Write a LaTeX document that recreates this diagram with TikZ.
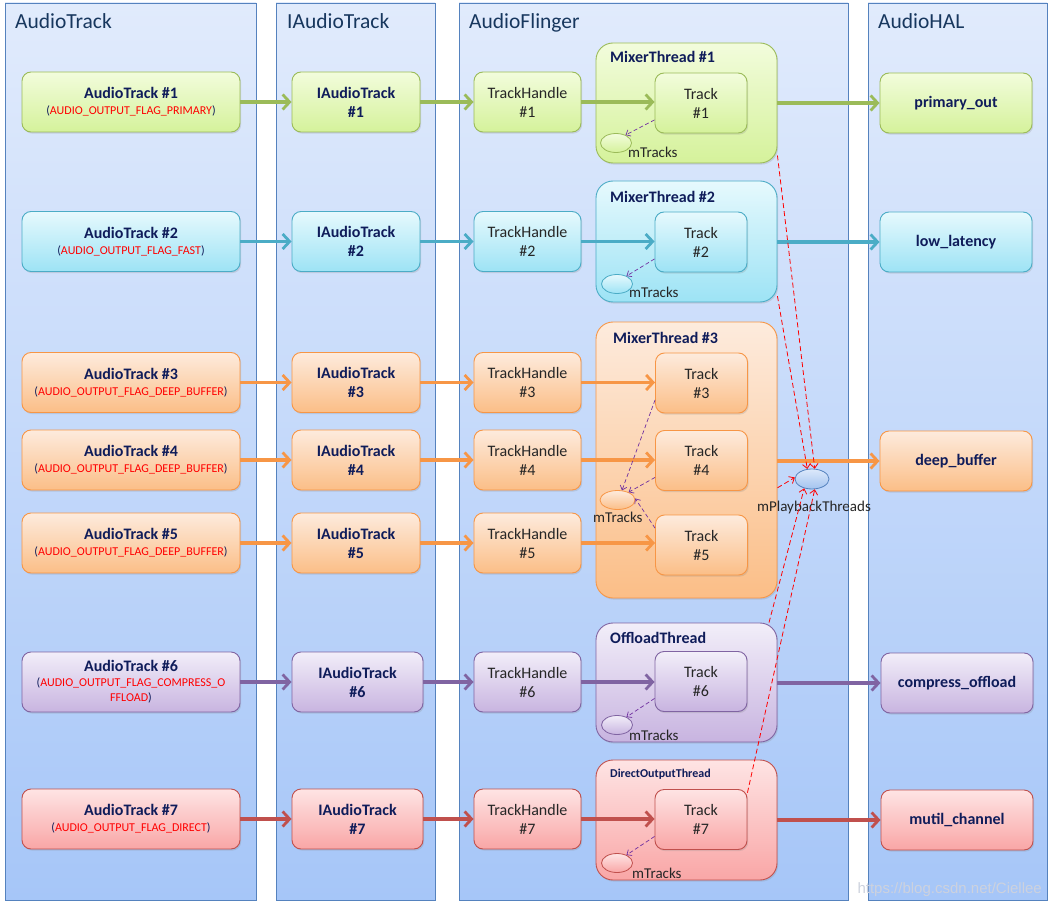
\documentclass[tikz,border=0pt]{standalone}
\usepackage{fontspec}
\setmainfont{Carlito}
\newfontfamily\wmfont{Liberation Sans}
\usetikzlibrary{arrows.meta,shapes.geometric,shadows,calc}
\definecolor{laneT}{HTML}{E1EBFC}
\definecolor{laneB}{HTML}{A6C6F8}
\definecolor{laneD}{HTML}{5582BE}
\definecolor{gT}{HTML}{F2FCDC}\definecolor{gB}{HTML}{D5F29B}\definecolor{gD}{HTML}{9BBB59}
\definecolor{cT}{HTML}{E6F9FD}\definecolor{cB}{HTML}{9DE3F5}\definecolor{cD}{HTML}{4BACC6}
\definecolor{oT}{HTML}{FDEBDD}\definecolor{oB}{HTML}{FBBE87}\definecolor{oD}{HTML}{F79646}
\definecolor{pT}{HTML}{F2EEF9}\definecolor{pB}{HTML}{C8B4E0}\definecolor{pD}{HTML}{8064A2}
\definecolor{rT}{HTML}{FEE4E4}\definecolor{rB}{HTML}{F9A6A6}\definecolor{rD}{HTML}{C0504D}
\definecolor{eT}{HTML}{DDE9FB}\definecolor{eB}{HTML}{A3C3EF}
\definecolor{navy}{HTML}{0F1C5A}
\definecolor{titleblue}{HTML}{17375E}
\definecolor{flagred}{HTML}{FF0000}
\definecolor{dpurple}{HTML}{7030A0}
\newcommand\boxbf{\fontsize{16}{19}\selectfont\bfseries\color{navy}}
\newcommand\flagtxt[1]{{\fontsize{12}{14}\selectfont\color{navy}(\textcolor{flagred}{#1})}}
\newcommand\flagsz{\fontsize{12}{14}\selectfont\mdseries\color{navy}}
\begin{document}
\begin{tikzpicture}[x=1pt,y=-1pt,
  lane/.style={draw=laneD, line width=0.8pt, top color=laneT, bottom color=laneB, inner sep=0pt, minimum width=#1, minimum height=897},
  lanetitle/.style={anchor=base west, font=\fontsize{21.5}{24}\selectfont, text=titleblue, inner sep=0pt},
  box/.style={rounded corners=9pt, line width=0.9pt, minimum height=60, align=center, inner sep=1pt,
    drop shadow={opacity=0.22, shadow xshift=1.2pt, shadow yshift=-1.6pt}},
  tbox/.style={rounded corners=17pt, line width=0.9pt, minimum width=181, inner sep=0pt,
    drop shadow={opacity=0.22, shadow xshift=1.2pt, shadow yshift=-1.6pt}},
  cgreen/.style={draw=gD, top color=gT, bottom color=gB},
  ccyan/.style={draw=cD, top color=cT, bottom color=cB},
  corange/.style={draw=oD, top color=oT, bottom color=oB},
  cpurple/.style={draw=pD, top color=pT, bottom color=pB},
  cred/.style={draw=rD, top color=rT, bottom color=rB},
  atbox/.style={box, minimum width=218},
  iabox/.style={box, minimum width=128, font=\boxbf},
  thbox/.style={box, minimum width=107, font=\fontsize{16}{19}\selectfont\color{black!85}},
  trbox/.style={box, minimum width=92, font=\fontsize{16}{19}\selectfont\color{black!85}},
  halbox/.style={box, minimum width=152, font=\boxbf},
  ttitle/.style={anchor=base west, inner sep=0pt, font=\fontsize{16}{19}\selectfont\bfseries, text=navy},
  mtr/.style={ellipse, draw, line width=0.8pt, minimum width=31, minimum height=19, inner sep=0pt},
  mlabel/.style={anchor=base west, inner sep=0pt, font=\fontsize{15}{17}\selectfont, text=black!85},
  flow/.style={line width=3.3pt, -{Straight Barb[length=7pt,width=15pt,line width=2.8pt]}},
  pdash/.style={draw=dpurple, line width=0.7pt, dashed, dash pattern=on 4pt off 2.5pt, -{Straight Barb[length=4pt,width=7pt]}},
  rdash/.style={draw=flagred, line width=0.8pt, dash pattern=on 5pt off 3pt, -{Straight Barb[length=4.5pt,width=8pt]}}
]
\useasboundingbox (0,0) rectangle (1052,909);
\fill[white] (0,0) rectangle (1052,909);

% lanes
\node[lane=251] (laneA) at (130.5,451.5) {};
\node[lane=159] (laneB) at (355.5,451.5) {};
\node[lane=389] (laneC) at (653.5,451.5) {};
\node[lane=179] (laneD) at (957.5,451.5) {};
\node[lanetitle] (ttA) at (15,29) {AudioTrack};
\node[lanetitle] (ttB) at (287,29) {IAudioTrack};
\node[lanetitle] (ttC) at (469,29) {AudioFlinger};
\node[lanetitle] (ttD) at (878,29) {AudioHAL};

% thread boxes
\node[tbox,cgreen,minimum height=120] (mt1) at (686.5,103) {};
\node[tbox,ccyan,minimum height=121] (mt2) at (686.5,241.5) {};
\node[tbox,corange,minimum height=276] (mt3) at (686.5,460) {};
\node[tbox,cpurple,minimum height=119] (mt6) at (686.5,682.5) {};
\node[tbox,cred,minimum height=120] (mt7) at (686.5,820) {};
\node[ttitle] (mt1t) at (610,63) {MixerThread \#1};
\node[ttitle] (mt2t) at (610,203) {MixerThread \#2};
\node[ttitle] (mt3t) at (613,343) {MixerThread \#3};
\node[ttitle] (mt6t) at (610,643) {OffloadThread};
\node[ttitle,font=\fontsize{12}{14}\selectfont\bfseries] (mt7t) at (610,777) {DirectOutputThread};

% row 1
\node[atbox,cgreen] (at1) at (131,102) {\boxbf AudioTrack \#1\\[4pt]\flagtxt{AUDIO\_OUTPUT\_FLAG\_PRIMARY}};
\node[iabox,cgreen] (ia1) at (356,102) {IAudioTrack\\\#1};
\node[thbox,cgreen] (th1) at (527.5,102) {TrackHandle\\\#1};
\node[trbox,cgreen] (tr1) at (701,103) {Track\\\#1};
\node[halbox,cgreen] (hal1) at (956,103) {primary\_out};
% row 2
\node[atbox,ccyan] (at2) at (131,241.5) {\boxbf AudioTrack \#2\\[4pt]\flagtxt{AUDIO\_OUTPUT\_FLAG\_FAST}};
\node[iabox,ccyan] (ia2) at (356,241.5) {IAudioTrack\\\#2};
\node[thbox,ccyan] (th2) at (527.5,241.5) {TrackHandle\\\#2};
\node[trbox,ccyan] (tr2) at (701,242) {Track\\\#2};
\node[halbox,ccyan] (hal2) at (956,242) {low\_latency};
% rows 3-5
\node[atbox,corange] (at3) at (131,382.5) {\boxbf AudioTrack \#3\\[4pt]\flagtxt{AUDIO\_OUTPUT\_FLAG\_DEEP\_BUFFER}};
\node[iabox,corange] (ia3) at (356,382.5) {IAudioTrack\\\#3};
\node[thbox,corange] (th3) at (527.5,382.5) {TrackHandle\\\#3};
\node[trbox,corange] (tr3) at (701.5,383) {Track\\\#3};
\node[atbox,corange] (at4) at (131,460) {\boxbf AudioTrack \#4\\[4pt]\flagtxt{AUDIO\_OUTPUT\_FLAG\_DEEP\_BUFFER}};
\node[iabox,corange] (ia4) at (356,460) {IAudioTrack\\\#4};
\node[thbox,corange] (th4) at (527.5,460) {TrackHandle\\\#4};
\node[trbox,corange] (tr4) at (701.5,460.5) {Track\\\#4};
\node[halbox,corange] (hal4) at (956,461) {deep\_buffer};
\node[atbox,corange] (at5) at (131,543) {\boxbf AudioTrack \#5\\[4pt]\flagtxt{AUDIO\_OUTPUT\_FLAG\_DEEP\_BUFFER}};
\node[iabox,corange] (ia5) at (356,543) {IAudioTrack\\\#5};
\node[thbox,corange] (th5) at (527.5,543) {TrackHandle\\\#5};
\node[trbox,corange] (tr5) at (701.5,545) {Track\\\#5};
% row 6
\node[atbox,cpurple] (at6) at (131,682) {\boxbf AudioTrack \#6\\[3pt]\flagsz(\textcolor{flagred}{AUDIO\_OUTPUT\_FLAG\_COMPRESS\_O}\\[3pt]\flagsz\textcolor{flagred}{FFLOAD})};
\node[iabox,cpurple,minimum width=131] (ia6) at (357.5,682) {IAudioTrack\\\#6};
\node[thbox,cpurple] (th6) at (527.5,682) {TrackHandle\\\#6};
\node[trbox,cpurple] (tr6) at (701,681.5) {Track\\\#6};
\node[halbox,cpurple] (hal6) at (957,683) {compress\_offload};
% row 7
\node[atbox,cred] (at7) at (131,819) {\boxbf AudioTrack \#7\\[4pt]\flagtxt{AUDIO\_OUTPUT\_FLAG\_DIRECT}};
\node[iabox,cred,minimum width=131] (ia7) at (357.5,819) {IAudioTrack\\\#7};
\node[thbox,cred] (th7) at (527.5,819) {TrackHandle\\\#7};
\node[trbox,cred] (tr7) at (701,819.5) {Track\\\#7};
\node[halbox,cred] (hal7) at (957,820) {mutil\_channel};

% mTracks ellipses
\node[mtr,cgreen] (e1) at (616,143) {};
\node[mtr,ccyan] (e2) at (617,284) {};
\node[mtr,corange,minimum width=35,minimum height=19] (e3) at (617.5,500) {};
\node[mtr,cpurple] (e6) at (617,725) {};
\node[mtr,cred] (e7) at (617,863) {};
\node[mlabel] (l1) at (628,158) {mTracks};
\node[mlabel] (l2) at (629,298) {mTracks};
\node[mlabel] (l3) at (593,522) {mTracks};
\node[mlabel] (l6) at (629,740) {mTracks};
\node[mlabel] (l7) at (632,878) {mTracks};

% mPlaybackThreads
\node[mtr,draw=laneD,top color=eT,bottom color=eB,minimum width=34,minimum height=20] (mpb) at (812,479) {};
\node[anchor=base, inner sep=0pt, font=\fontsize{15}{17}\selectfont, text=black!85] (mpbl) at (814,511) {mPlaybackThreads};

% flows
\foreach \r/\c in {1/gD,2/cD,3/oD,4/oD,5/oD,6/pD,7/rD}{
  \draw[flow,draw=\c] (at\r) -- (ia\r);
  \draw[flow,draw=\c] (ia\r) -- (th\r);
  \draw[flow,draw=\c] (th\r) -- (th\r -| tr\r.west);
}
\draw[flow,draw=gD] (mt1.east |- hal1) -- (hal1);
\draw[flow,draw=cD] (mt2.east |- hal2) -- (hal2);
\draw[flow,draw=oD] (mt3.east |- hal4) -- (hal4);
\draw[flow,draw=pD] (mt6.east |- hal6) -- (hal6);
\draw[flow,draw=rD] (mt7.east |- hal7) -- (hal7);

% mTracks links
\draw[pdash] (tr1.200) -- (e1.40);
\draw[pdash] (tr2.200) -- (e2.40);
\draw[pdash] (tr3.200) -- (e3.65);
\draw[pdash] (tr4.200) -- (e3.35);
\draw[pdash] (tr5.160) -- (e3.5);
\draw[pdash] (tr6.200) -- (e6.40);
\draw[pdash] (tr7.200) -- (e7.40);

% mPlaybackThreads links
\draw[rdash] (mt1.-30) -- (mpb.75);
\draw[rdash] (mt2.-31) -- (mpb.115);
\draw[rdash] (mt3.-17) -- (mpb.175);
\draw[rdash] (mt6.36) -- (mpb.230);
\draw[rdash] (tr7.30) -- (mpb.285);

% watermark
\node[anchor=base east, inner sep=0pt, font=\wmfont\fontsize{15}{15}\selectfont, text={rgb,255:red,205;green,210;blue,222}] (wm) at (1042,893) {https://blog.csdn.net/Ciellee};
\end{tikzpicture}
\end{document}
